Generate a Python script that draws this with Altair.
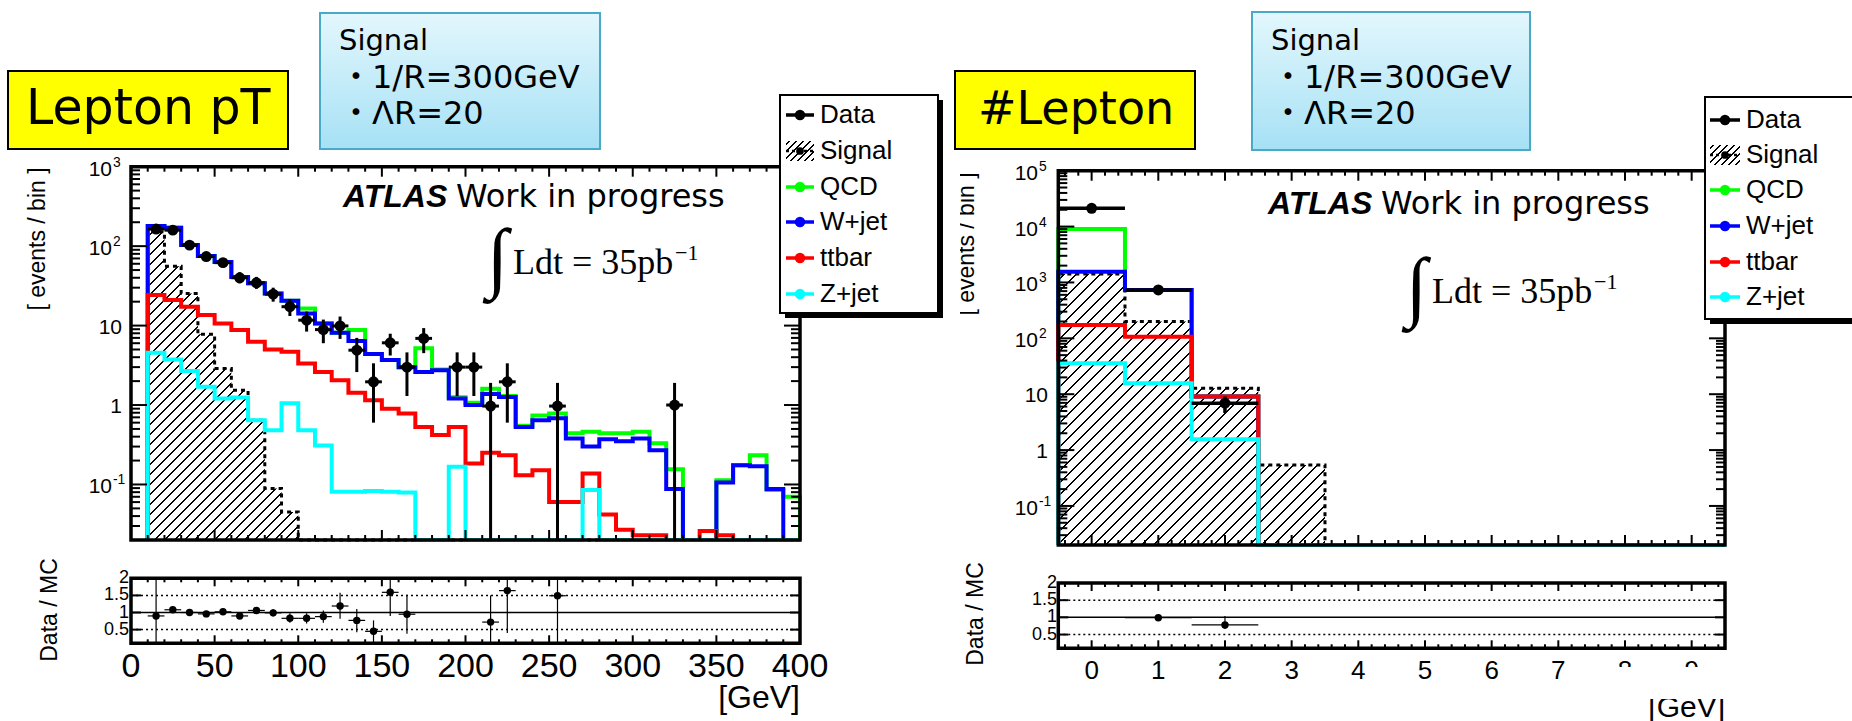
import math
import altair as alt
import pandas as pd

# ====================== DATA ======================
YMIN = 0.02  # floor of the log axes (empty bins are drawn here)

# ---- Lepton pT panel: 10 GeV bins from 10 to 400 GeV ----
LPT_FIRST_EDGE = 10
LPT_BIN_WIDTH = 10
LPT_QCD = [179, 170, 103, 75, 63, 41, 34, 25.4, 20.5, 16.4, 10.6, 8.1, 8.8, 4.4, 3.7, 3.0, 5.2, 2.8, 1.25,
           1.07, 1.6, 1.3, 0.55, 0.74, 0.78, 0.44, 0.46, 0.44, 0.44, 0.46, 0.33, 0.155, 0, 0, 0.113, 0.175,
           0.234, 0.085, 0.07]
LPT_WJET = [179, 170, 103, 75, 63, 41, 34, 25.4, 20.5, 14.2, 10.6, 8.1, 6.4, 4.4, 3.7, 3.0, 2.6, 2.75, 1.21,
            1.0, 1.38, 1.26, 0.53, 0.645, 0.68, 0.38, 0.30, 0.37, 0.35, 0.38, 0.27, 0.088, 0, 0, 0.106, 0.175,
            0.17, 0.088, 0]
LPT_TTBAR = [24.2, 21, 17.3, 13.6, 10.6, 8.8, 6.25, 5.0, 4.7, 3.33, 2.6, 2.05, 1.43, 1.15, 0.90, 0.78, 0.53,
             0.42, 0.53, 0.184, 0.25, 0.234, 0.131, 0.151, 0.06, 0.06, 0.137, 0.042, 0.027, 0.023, 0.023, 0, 0,
             0.026, 0.023, 0, 0, 0, 0]
LPT_ZJET = [4.54, 3.74, 2.69, 1.70, 1.21, 1.24, 0.645, 0.48, 1.05, 0.48, 0.31, 0.081, 0.081, 0.083, 0.081,
            0.079, 0, 0, 0.167, 0, 0, 0, 0, 0, 0, 0, 0.085, 0, 0, 0, 0, 0, 0, 0, 0, 0, 0, 0, 0]
LPT_SIGNAL = [152, 56, 25.4, 7.8, 2.88, 1.54, 0.645, 0.089, 0.045, 0, 0, 0, 0, 0, 0, 0, 0, 0, 0, 0, 0, 0, 0,
              0, 0, 0, 0, 0, 0, 0, 0, 0, 0, 0, 0, 0, 0, 0, 0]
LPT_DATA_X = [15, 25, 35, 45, 55, 65, 75, 85, 95, 105, 115, 125, 135, 145, 155, 165, 175, 195, 205, 215, 225,
              255, 325]
LPT_DATA_Y = [164, 159, 103, 74, 62, 40, 34.6, 24.9, 17.3, 11.7, 8.9, 9.9, 4.9, 1.96, 6.07, 3.0, 6.9, 3.0,
              3.0, 0.97, 1.96, 0.97, 1.0]
LPT_DATA_LO = [152, 147, 93, 66, 54, 34, 29, 20, 13.2, 8.4, 6.0, 6.8, 2.6, 0.6, 4.2, 1.3, 4.5, 1.3, 1.3,
               0.02, 0.6, 0.02, 0.02]
LPT_DATA_HI = [177, 172, 113, 83, 70, 47, 41, 30, 21.5, 15.0, 11.9, 13.0, 7.0, 3.35, 7.9, 4.6, 9.3, 4.6, 4.6,
               1.9, 3.35, 1.9, 1.9]
LPT_RATIO_X = [15, 25, 35, 45, 55, 65, 75, 85, 95, 105, 115, 125, 135, 145, 155, 165, 215, 225, 255]
LPT_RATIO = [0.90, 1.08, 1.00, 0.96, 1.02, 0.90, 1.06, 0.99, 0.83, 0.83, 0.88, 1.19, 0.77, 0.45, 1.59, 0.95,
             0.72, 1.64, 1.49]
LPT_RATIO_LO = [0.1, 1.0, 0.93, 0.88, 0.94, 0.82, 0.96, 0.88, 0.70, 0.68, 0.70, 0.82, 0.42, 0.1, 0.90, 0.38,
                0.1, 0.40, 0.1]
LPT_RATIO_HI = [2.0, 1.16, 1.07, 1.04, 1.10, 0.98, 1.16, 1.10, 0.98, 0.98, 1.06, 1.58, 1.10, 0.77, 2.0, 1.52,
                1.50, 2.0, 2.0]

# ---- #Lepton panel: unit bins centred on 0..9 ----
NL_FIRST_EDGE = -0.5
NL_BIN_WIDTH = 1
NL_QCD = [9060, 733, 9.06, 0, 0, 0, 0, 0, 0, 0]
NL_WJET = [1560, 733, 9.06, 0, 0, 0, 0, 0, 0, 0]
NL_TTBAR = [173, 107, 9.06, 0, 0, 0, 0, 0, 0, 0]
NL_ZJET = [35.7, 15.7, 1.56, 0, 0, 0, 0, 0, 0, 0]
NL_SIGNAL = [1415, 200, 12.8, 0.54, 0, 0, 0, 0, 0, 0]
NL_DATA_X = [0, 1, 2]
NL_DATA_Y = [21200, 733, 6.9]
NL_DATA_LO = [20900, 706, 4.6]
NL_DATA_HI = [21500, 760, 9.1]
NL_RATIO_X = [1, 2]
NL_RATIO = [0.99, 0.78]
NL_RATIO_LO = [0.95, 0.66]
NL_RATIO_HI = [1.03, 1.04]

# ---- tick labels ----
LPT_X_LABELS = [0, 50, 100, 150, 200, 250, 300, 350, 400]
NL_X_LABELS = [0, 1, 2, 3, 4, 5, 6, 7, 8, 9]
LPT_Y_LABELS = [(1000, "10", "3"), (100, "10", "2"), (10, "10", ""), (1, "1", ""), (0.1, "10", "-1")]
NL_Y_LABELS = [(1e5, "10", "5"), (1e4, "10", "4"), (1e3, "10", "3"), (100, "10", "2"), (10, "10", ""),
               (1, "1", ""), (0.1, "10", "-1")]
RATIO_Y_LABELS = [(2.0, "2"), (1.5, "1.5"), (1.0, "1"), (0.5, "0.5")]
LEGEND_NAMES = ["Data", "Signal", "QCD", "W+jet", "ttbar", "Z+jet"]

# ====================== STYLE / LAYOUT ======================
C_QCD, C_W, C_TT, C_Z = "#00ff00", "#0000ff", "#ff0000", "#00ffff"
LEGEND_COLORS = ["black", "black", C_QCD, C_W, C_TT, C_Z]
SANS = "Liberation Sans, Arial, Helvetica, sans-serif"
DEJ = "DejaVu Sans, Noto Sans CJK JP, sans-serif"
SERIF = "Liberation Serif, Times New Roman, serif"

L_X0, L_X1, L_YT, L_YB = 131, 800, 166.7, 540
LR_YT, LR_YB = 578.3, 643.3
R_X0, R_X1, R_YT, R_YB = 1058.3, 1725, 170.7, 545
RR_YT, RR_YB = 583, 648.3

LX = alt.Scale(domain=[0, 400], range=[L_X0, L_X1], nice=False, zero=False)
LY = alt.Scale(type="log", domain=[YMIN, 1000], range=[L_YB, L_YT], nice=False)
LRY = alt.Scale(domain=[0.1, 2.0], range=[LR_YB, LR_YT], nice=False, zero=False)
RX = alt.Scale(domain=[-0.5, 9.5], range=[R_X0, R_X1], nice=False, zero=False)
RY = alt.Scale(type="log", domain=[YMIN, 1e5], range=[R_YB, R_YT], nice=False)
RRY = alt.Scale(domain=[0.1, 2.0], range=[RR_YB, RR_YT], nice=False, zero=False)

ONE = pd.DataFrame({"k": [0]})


def T(s, x, y, size, font=SANS, align="left", baseline="alphabetic", angle=None, weight="normal",
      style="normal", color="black"):
    kw = dict(text=s, x=x, y=y, fontSize=size, font=font, align=align, baseline=baseline,
              fontWeight=weight, fontStyle=style, color=color)
    if angle is not None:
        kw["angle"] = angle
    return alt.Chart(ONE).mark_text(**kw)


def R(x0, x1, y0, y1, fill="white", stroke=None, sw=0, fop=1):
    kw = dict(fill=fill, fillOpacity=fop)
    if stroke:
        kw.update(stroke=stroke, strokeWidth=sw)
    return alt.Chart(ONE).mark_rect(**kw).encode(
        x=alt.value(x0), x2=alt.value(x1), y=alt.value(y0), y2=alt.value(y1))


def hatch(w, h, spacing, lw=1.0):
    n = float(w + h)
    dt = spacing / n
    half = lw * 1.414 / 2 / n
    stops = [{"offset": 0, "color": "white"}]
    t = dt / 2
    while t + half < 1:
        a, b = round(t - half, 5), round(t + half, 5)
        stops += [{"offset": a, "color": "white"}, {"offset": a, "color": "black"},
                  {"offset": b, "color": "black"}, {"offset": b, "color": "white"}]
        t += dt
    stops.append({"offset": 1, "color": "white"})
    k = (w + h) / float(w * w + h * h)
    return {"gradient": "linear", "x1": 0, "y1": 0, "x2": w * k, "y2": h * k, "stops": stops}


def enc_x(f, s):
    return alt.X(f, scale=s, axis=None)


def enc_y(f, s):
    return alt.Y(f, scale=s, axis=None)


def step_line(e0, bw, vals, sx, sy, color, sw=4, dash=None):
    n = len(vals)
    edges = [e0 + bw * i for i in range(n + 1)]
    ys = [v if v > YMIN else YMIN for v in vals]
    xs = [edges[0]] + edges[:n] + [edges[n], edges[n]]
    yy = [YMIN] + ys + [ys[-1], YMIN]
    df = pd.DataFrame({"x": xs, "y": yy, "o": list(range(len(xs)))})
    kw = dict(interpolate="step-after", color=color, strokeWidth=sw, strokeJoin="miter", strokeCap="butt")
    if dash:
        kw["strokeDash"] = dash
    return alt.Chart(df).mark_line(**kw).encode(x=enc_x("x:Q", sx), y=enc_y("y:Q", sy), order="o:Q")


def signal_area(e0, bw, vals, sx, sy, xpx, ypx, spacing):
    last = max(i for i, v in enumerate(vals) if v > 0)
    edges = [e0 + bw * i for i in range(last + 2)]
    ys = [v if v > YMIN else YMIN for v in vals[:last + 1]]
    df = pd.DataFrame({"x": edges, "y": ys + [ys[-1]], "b": [YMIN] * len(edges)})
    w = xpx(edges[-1]) - xpx(edges[0])
    h = ypx(YMIN) - ypx(max(ys))
    return alt.Chart(df).mark_area(interpolate="step-after", fill=hatch(w, h, spacing), opacity=1).encode(
        x=enc_x("x:Q", sx), y=enc_y("y:Q", sy), y2="b:Q")


def data_layers(xc, y, lo, hi, half, sx, sy, size, sw):
    df = pd.DataFrame({"x": xc, "y": y, "lo": lo, "hi": hi,
                       "xl": [a - half for a in xc], "xh": [a + half for a in xc]})
    v = alt.Chart(df).mark_rule(color="black", strokeWidth=sw).encode(
        x=enc_x("x:Q", sx), y=enc_y("lo:Q", sy), y2="hi:Q")
    hbar = alt.Chart(df).mark_rule(color="black", strokeWidth=sw).encode(
        x=enc_x("xl:Q", sx), x2="xh:Q", y=enc_y("y:Q", sy))
    p = alt.Chart(df).mark_point(filled=True, shape="circle", size=size, color="black", opacity=1).encode(
        x=enc_x("x:Q", sx), y=enc_y("y:Q", sy))
    return [v, hbar, p]


def x_ticks(vals, sx, yb, yt, length, sw=2):
    df = pd.DataFrame({"v": vals})
    base = alt.Chart(df).mark_rule(color="black", strokeWidth=sw)
    return [base.encode(x=enc_x("v:Q", sx), y=alt.value(yb), y2=alt.value(yb - length)),
            base.encode(x=enc_x("v:Q", sx), y=alt.value(yt), y2=alt.value(yt + length))]


def y_ticks(vals, sy, xl, xr, length, sw=2):
    df = pd.DataFrame({"v": vals})
    base = alt.Chart(df).mark_rule(color="black", strokeWidth=sw)
    return [base.encode(y=enc_y("v:Q", sy), x=alt.value(xl), x2=alt.value(xl + length)),
            base.encode(y=enc_y("v:Q", sy), x=alt.value(xr), x2=alt.value(xr - length))]


def hline(val, sy, x0, x1, dash=None, sw=1.5):
    kw = dict(color="black", strokeWidth=sw)
    if dash:
        kw["strokeDash"] = dash
    return alt.Chart(pd.DataFrame({"v": [val]})).mark_rule(**kw).encode(
        y=enc_y("v:Q", sy), x=alt.value(x0), x2=alt.value(x1))


def frame(x0, x1, y0, y1, sw=3.5):
    return R(x0, x1, y0, y1, fill="white", stroke="black", sw=sw, fop=0)


def lin(d0, d1, r0, r1):
    return lambda v: r0 + (v - d0) / (d1 - d0) * (r1 - r0)


def logm(d0, d1, r0, r1):
    return lambda v: r0 + (math.log10(v) - math.log10(d0)) / (math.log10(d1) - math.log10(d0)) * (r1 - r0)


def log_minors(lo, hi):
    out = []
    for e in range(-3, 6):
        for m in range(2, 10):
            v = m * 10.0 ** e
            if lo <= v <= hi:
                out.append(v)
    return out


def y_labels(items, sy, x_base, x_plain, size):
    df = pd.DataFrame({"v": [a for a, b, c in items], "base": [b for a, b, c in items],
                       "exp": [c for a, b, c in items]})
    with_exp = df[df["exp"] != ""]
    plain = df[df["exp"] == ""]
    return [
        alt.Chart(with_exp).mark_text(align="right", baseline="middle", fontSize=size, font=SANS, dy=3,
                                      color="black").encode(x=alt.value(x_base), y=enc_y("v:Q", sy), text="base:N"),
        alt.Chart(with_exp).mark_text(align="left", baseline="middle", fontSize=size * 0.66, font=SANS, dy=-4,
                                      color="black").encode(x=alt.value(x_base + 1), y=enc_y("v:Q", sy), text="exp:N"),
        alt.Chart(plain).mark_text(align="right", baseline="middle", fontSize=size, font=SANS, dy=2,
                                   color="black").encode(x=alt.value(x_plain), y=enc_y("v:Q", sy), text="base:N"),
    ]


def x_labels(vals, sx, y, size):
    df = pd.DataFrame({"v": vals, "t": [str(v) for v in vals]})
    return [alt.Chart(df).mark_text(align="center", baseline="middle", fontSize=size, font=SANS,
                                    color="black").encode(x=enc_x("v:Q", sx), y=alt.value(y), text="t:N")]


def ratio_y_labels(sy, x_right, size):
    df = pd.DataFrame({"v": [a for a, b in RATIO_Y_LABELS], "t": [b for a, b in RATIO_Y_LABELS]})
    return [alt.Chart(df).mark_text(align="right", baseline="middle", fontSize=size, font=SANS,
                                    color="black").encode(x=alt.value(x_right), y=enc_y("v:Q", sy), text="t:N")]


def legend(x0, x1, y0, y1, sx0, sx1, tx, rows):
    out = [R(x0 + 5, x1 + 5, y0 + 5, y1 + 5, fill="black"), R(x0, x1, y0, y1, fill="white", stroke="black", sw=2)]
    cx = (sx0 + sx1) / 2
    for name, color, y in zip(LEGEND_NAMES, LEGEND_COLORS, rows):
        if name == "Signal":
            out.append(R(sx0, sx1, y - 10, y + 10, fill=hatch(sx1 - sx0, 20, 7, 1.0)))
            out.append(alt.Chart(ONE).mark_rule(color="black", strokeWidth=2.5, strokeDash=[3, 3]).encode(
                x=alt.value(sx0), x2=alt.value(sx1), y=alt.value(y)))
            out.append(alt.Chart(ONE).mark_point(filled=True, shape="circle", size=60, color="black",
                                                 opacity=1).encode(x=alt.value(cx), y=alt.value(y)))
        else:
            out.append(alt.Chart(ONE).mark_rule(color=color, strokeWidth=3.5).encode(
                x=alt.value(sx0), x2=alt.value(sx1), y=alt.value(y)))
            out.append(alt.Chart(ONE).mark_point(filled=True, shape="circle", size=110, color=color,
                                                 opacity=1).encode(x=alt.value(cx), y=alt.value(y)))
        out.append(T(name, tx, y, 26, baseline="middle"))
    return out


layers = []

# ---------------- Left main panel (Lepton pT) ----------------
lxpx = lin(0, 400, L_X0, L_X1)
lypx = logm(YMIN, 1000, L_YB, L_YT)
layers.append(signal_area(LPT_FIRST_EDGE, LPT_BIN_WIDTH, LPT_SIGNAL, LX, LY, lxpx, lypx, 10))
layers.append(step_line(LPT_FIRST_EDGE, LPT_BIN_WIDTH, LPT_SIGNAL, LX, LY, "black", 3, [4, 4]))
for vals, col in [(LPT_QCD, C_QCD), (LPT_WJET, C_W), (LPT_TTBAR, C_TT), (LPT_ZJET, C_Z)]:
    layers.append(step_line(LPT_FIRST_EDGE, LPT_BIN_WIDTH, vals, LX, LY, col))
layers += data_layers(LPT_DATA_X, LPT_DATA_Y, LPT_DATA_LO, LPT_DATA_HI, 5, LX, LY, 120, 3)
layers.append(frame(L_X0, L_X1, L_YT, L_YB))
layers += x_ticks([v for v in range(0, 401, 50)], LX, L_YB, L_YT, 10)
layers += x_ticks([v for v in range(0, 401, 10) if v % 50], LX, L_YB, L_YT, 5)
layers += y_ticks([0.1, 1, 10, 100, 1000], LY, L_X0, L_X1, 16)
layers += y_ticks(log_minors(YMIN, 1000), LY, L_X0, L_X1, 9)
layers += y_labels(LPT_Y_LABELS, LY, 112, 122, 21)

# ---------------- Left ratio panel ----------------
layers.append(hline(1.0, LRY, L_X0, L_X1, sw=1.5))
layers.append(hline(0.5, LRY, L_X0, L_X1, dash=[2, 3], sw=1.5))
layers.append(hline(1.5, LRY, L_X0, L_X1, dash=[2, 3], sw=1.5))
layers += data_layers(LPT_RATIO_X, LPT_RATIO, LPT_RATIO_LO, LPT_RATIO_HI, 5, LX, LRY, 55, 1.2)
layers.append(frame(L_X0, L_X1, LR_YT, LR_YB))
layers += x_ticks([v for v in range(0, 401, 50)], LX, LR_YB, LR_YT, 8)
layers += x_ticks([v for v in range(0, 401, 10) if v % 50], LX, LR_YB, LR_YT, 4)
layers += y_ticks([0.5, 1.0, 1.5], LRY, L_X0, L_X1, 10)
layers += ratio_y_labels(LRY, 129, 18)
layers += x_labels(LPT_X_LABELS, LX, 667, 34)
layers.append(T("[GeV]", L_X1, 708, 32, align="right"))
layers.append(T("[ events / bin ]", 38, 239, 23, align="center", baseline="middle", angle=270))
layers.append(T("Data / MC", 50, 610, 23, align="center", baseline="middle", angle=270))

# ---------------- Right main panel (#Lepton) ----------------
rxpx = lin(-0.5, 9.5, R_X0, R_X1)
rypx = logm(YMIN, 1e5, R_YB, R_YT)
layers.append(signal_area(NL_FIRST_EDGE, NL_BIN_WIDTH, NL_SIGNAL, RX, RY, rxpx, rypx, 12))
layers.append(step_line(NL_FIRST_EDGE, NL_BIN_WIDTH, NL_SIGNAL, RX, RY, "black", 3, [4, 4]))
for vals, col in [(NL_QCD, C_QCD), (NL_WJET, C_W), (NL_TTBAR, C_TT), (NL_ZJET, C_Z)]:
    layers.append(step_line(NL_FIRST_EDGE, NL_BIN_WIDTH, vals, RX, RY, col))
layers += data_layers(NL_DATA_X, NL_DATA_Y, NL_DATA_LO, NL_DATA_HI, 0.5, RX, RY, 120, 3.5)
layers.append(frame(R_X0, R_X1, R_YT, R_YB))
nl_minor_x = [round(k * 0.2, 1) for k in range(-2, 48) if k % 5]
layers += x_ticks(list(range(0, 10)), RX, R_YB, R_YT, 10)
layers += x_ticks(nl_minor_x, RX, R_YB, R_YT, 5)
layers += y_ticks([0.1, 1, 10, 100, 1e3, 1e4, 1e5], RY, R_X0, R_X1, 16)
layers += y_ticks(log_minors(YMIN, 1e5), RY, R_X0, R_X1, 9)
layers += y_labels(NL_Y_LABELS, RY, 1038, 1048, 21)

# ---------------- Right ratio panel ----------------
layers.append(hline(1.0, RRY, R_X0, R_X1, sw=1.5))
layers.append(hline(0.5, RRY, R_X0, R_X1, dash=[2, 3], sw=1.5))
layers.append(hline(1.5, RRY, R_X0, R_X1, dash=[2, 3], sw=1.5))
layers += data_layers(NL_RATIO_X, NL_RATIO, NL_RATIO_LO, NL_RATIO_HI, 0.5, RX, RRY, 55, 1.2)
layers.append(frame(R_X0, R_X1, RR_YT, RR_YB))
layers += x_ticks(list(range(0, 10)), RX, RR_YB, RR_YT, 8)
layers += x_ticks(nl_minor_x, RX, RR_YB, RR_YT, 4)
layers += y_ticks([0.5, 1.0, 1.5], RRY, R_X0, R_X1, 10)
layers += ratio_y_labels(RRY, 1057, 18)
layers += x_labels(NL_X_LABELS, RX, 671, 26)
layers.append(T("[GeV]", R_X1, 717, 30, align="right"))
layers.append(R(1585, 1745, 667, 699, fill="white"))
layers.append(T("[ events / bin ]", 967, 244, 23, align="center", baseline="middle", angle=270))
layers.append(R(946, 960, 160, 330, fill="white"))
layers.append(T("Data / MC", 976, 614, 23, align="center", baseline="middle", angle=270))

# ---------------- Legends ----------------
layers += legend(780, 938, 95, 313, 786, 814, 820, [115, 151, 187, 222, 258, 294])
layers += legend(1705, 1875, 97, 319, 1710, 1740, 1746, [120, 155, 190, 226, 262, 297])

# ---------------- Annotations ----------------
BLUE_FILL = {"gradient": "linear", "x1": 0, "y1": 0, "x2": 0, "y2": 1,
             "stops": [{"offset": 0, "color": "#e3f7fd"}, {"offset": 1, "color": "#a6e1f5"}]}
for (bx0, bx1, by0, by1), (yx0, yx1), title, tx, tsize in [((320, 600, 13, 149), (8, 288), "Lepton pT", 26, 49),
                                                            ((1252, 1530, 12, 150), (955, 1195), "#Lepton", 978, 46)]:
    layers.append(R(yx0, yx1, 71, 149, fill="#ffff00", stroke="black", sw=2))
    layers.append(T(title, tx, 124, tsize, font=DEJ))
    layers.append(R(bx0, bx1, by0, by1, fill=BLUE_FILL, stroke="#4ba9c8", sw=2))
    layers.append(T("Signal", bx0 + 19, 50, 29, font=DEJ))
    layers.append(T("・1/R=300GeV", bx0 + 20, 88, 32, font=DEJ))
    layers.append(T("・ΛR=20", bx0 + 20, 124, 32, font=DEJ))

for ax, ay, lx, ly in [(343, 207, 513, 274), (1268, 214, 1432, 303)]:
    layers.append(T("ATLAS", ax, ay, 32, weight="bold", style="italic"))
    layers.append(T("Work in progress", ax + 113, ay, 32, font=DEJ))
    layers.append(T("∫", lx - 26, ly + 9, 78, font=SERIF))
    layers.append(T("Ldt = 35pb", lx, ly, 36, font=SERIF))
    layers.append(T("−1", lx + 162, ly - 14, 22, font=SERIF))

chart = alt.layer(*layers).resolve_scale(x="independent", y="independent").properties(
    width=1852, height=721, autosize=alt.AutoSizeParams(type="none"), padding=0, background="white"
).configure_view(stroke=None)

chart.save("out.html", embed_options={"renderer": "svg", "actions": False})
